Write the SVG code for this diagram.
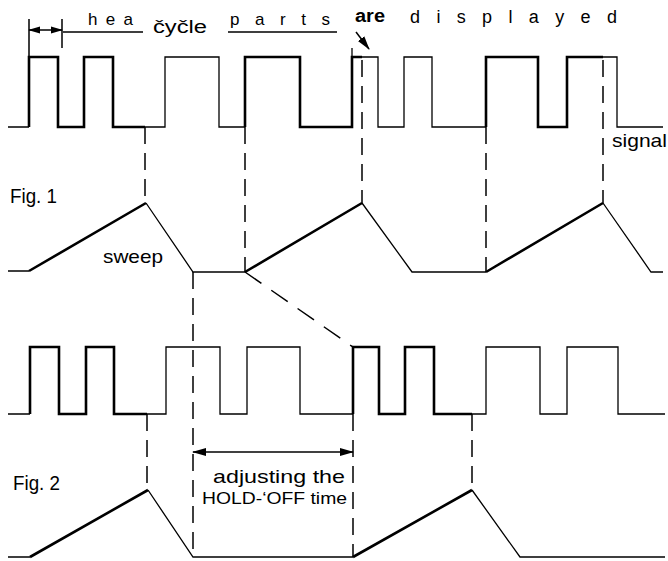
<svg xmlns="http://www.w3.org/2000/svg" width="668" height="561" viewBox="0 0 668 561">
<style>
.thick{fill:none;stroke:#000;stroke-width:2.6;stroke-linejoin:miter}
.thin{fill:none;stroke:#000;stroke-width:1.3}
.dash{fill:none;stroke:#000;stroke-width:1.5;stroke-dasharray:17 9}
.ln{fill:none;stroke:#000;stroke-width:1.5}
text{font-family:"Liberation Sans",Arial,sans-serif;fill:#000}
</style>
<defs>
<marker id="ah" markerUnits="userSpaceOnUse" markerWidth="14" markerHeight="10" refX="13" refY="5" orient="auto-start-reverse" viewBox="0 0 14 10">
<path d="M0,1 L14,5 L0,9 Z" fill="#000"/>
</marker>
<marker id="ahs" markerUnits="userSpaceOnUse" markerWidth="12" markerHeight="8" refX="11" refY="4" orient="auto-start-reverse" viewBox="0 0 12 8">
<path d="M0,0.5 L12,4 L0,7.5 Z" fill="#000"/>
</marker>
</defs>
<rect width="668" height="561" fill="#fff"/>

<g id="fig1-signal">
<path class="thin" d="M8,127 H29 M145,127 H165 V57 H219 V127 H245 M362,57 H378 V127 H404 V57 H432 V127 H486 M603,57 H617 V127 H663"/>
<path class="thick" d="M29,127 V57 H58 V127 H84 V57 H113 V127 H145 M245,127 V57 H300 V127 H352 V57 H362 M486,127 V57 H538 V127 H567 V57 H603"/>
<path class="thin" d="M352,48 V57"/>
</g>

<g id="fig1-sweep">
<path class="thin" d="M8,271 H29 M146,203 L193,272 H245 M362,203 L412,272 H486 M603,203 L651,272 H663"/>
<path class="thick" d="M29,271 L146,203 M245,272 L362,203 M486,272 L603,203"/>
</g>

<g id="fig2-signal">
<path class="thin" d="M8,414 H30 M147,414 H166 V347 H220 V414 H247 V347 H300 V414 H353 M472,414 H486 V347 H540 V414 H567 V347 H618 V414 H665"/>
<path class="thick" d="M30,414 V347 H59 V414 H86 V347 H114 V414 H147 M353,414 V347 H379 V414 H405 V347 H434 V414 H472"/>
</g>

<g id="fig2-sweep">
<path class="thin" d="M8,557 H30 M148,490 L193,557 H353 M472,490 L520,557 H665"/>
<path class="thick" d="M30,557 L148,490 M353,557 L472,490"/>
</g>

<g id="connectors">
<path class="dash" d="M145,127 V203"/>
<path class="dash" d="M245,127 V272"/>
<path class="dash" d="M362,60 V203"/>
<path class="dash" d="M486,127 V272"/>
<path class="dash" d="M603,60 V203"/>
<path class="dash" d="M193,272 V557"/>
<path class="dash" style="stroke-dasharray:20 12" d="M245,272 L353,347"/>
<path class="dash" d="M147,414 V490"/>
<path class="dash" d="M472,414 V490"/>
<path class="dash" d="M353,414 V557"/>
<path class="ln" d="M193,452 H353" marker-start="url(#ah)" marker-end="url(#ah)"/>
<path class="ln" d="M29,19 V57 M62,19 V48"/>
<path class="ln" d="M29,30 H62" marker-start="url(#ahs)" marker-end="url(#ahs)"/>
<path class="ln" d="M63,32 H143 M228,32 H337"/>
<path class="ln" d="M356,32 L369,49" marker-end="url(#ah)"/>
</g>

<g id="labels">
<text x="88" y="25" font-size="17" textLength="45" lengthAdjust="spacing">h e a</text>
<text x="153" y="33" font-size="18" textLength="54" lengthAdjust="spacingAndGlyphs">čyčle</text>
<text x="230" y="25" font-size="17" textLength="100" lengthAdjust="spacing">p a r t s</text>
<text x="355" y="22" font-size="18" font-weight="bold" textLength="30" lengthAdjust="spacingAndGlyphs">are</text>
<text x="410" y="23" font-size="18" textLength="207" lengthAdjust="spacing">d i s p l a y e d</text>
<text x="612" y="147" font-size="19" textLength="55" lengthAdjust="spacingAndGlyphs">signal</text>
<text x="10" y="203" font-size="20" textLength="47" lengthAdjust="spacingAndGlyphs">Fig. 1</text>
<text x="103" y="263" font-size="19" textLength="60" lengthAdjust="spacingAndGlyphs">sweep</text>
<text x="13" y="490" font-size="20" textLength="47" lengthAdjust="spacingAndGlyphs">Fig. 2</text>
<text x="213" y="483" font-size="19" textLength="132" lengthAdjust="spacingAndGlyphs">adjusting the</text>
<text x="202" y="504" font-size="17" textLength="145" lengthAdjust="spacingAndGlyphs">HOLD-‘OFF time</text>
</g>
</svg>
